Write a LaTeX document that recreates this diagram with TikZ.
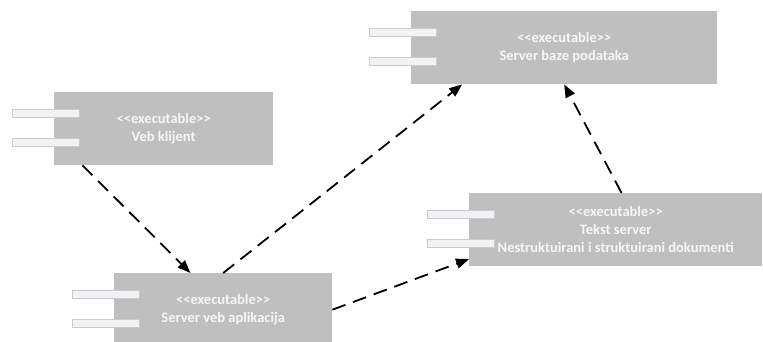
\documentclass[tikz,border=0pt]{standalone}
\usepackage{fontspec}
\setmainfont{Carlito}
\usetikzlibrary{positioning, arrows.meta, calc}
\definecolor{compgray}{RGB}{191,191,191}
\definecolor{portfill}{RGB}{242,242,242}
\definecolor{portedge}{RGB}{196,204,214}
\definecolor{labelwhite}{RGB}{246,246,246}
\newcommand{\exetag}{<\kern0pt<executable>\kern0pt>}

\tikzset{
  compbox/.style={fill=compgray, anchor=north west, inner sep=0pt, minimum height=73pt,
    text=labelwhite, font=\bfseries\fontsize{14.5}{18}\selectfont, align=center},
  portbar/.style={draw=portedge, fill=portfill, line width=0.5pt,
    minimum width=67pt, minimum height=8pt, inner sep=0pt},
  dep/.style={draw=black, line width=1.8pt, dash pattern=on 14pt off 8pt,
    -{Triangle[length=13pt,width=10pt]}}
}

\begin{document}
\begin{tikzpicture}[x=1pt, y=-1pt]
  \useasboundingbox (0,0) rectangle (763,342);

  % components
  \node[compbox, minimum width=219pt] (klijent) at (54,92) {\exetag\\Veb klijent};
  \node[compbox, minimum width=306pt] (baza) at (411,11) {\exetag\\Server baze podataka};
  \node[compbox, minimum width=293pt] (tekst) at (469,193)
    {\exetag\\Tekst server\\Nestruktuirani i struktuirani dokumenti};
  \node[compbox, minimum width=218pt] (aplikacija) at (114,273) {\exetag\\Server veb aplikacija};

  % ports
  \foreach \c in {klijent, baza, tekst, aplikacija} {
    \node[portbar, left=-25pt of \c.west, yshift=15pt] (\c-p1) {};
    \node[portbar, left=-25pt of \c.west, yshift=-14pt] (\c-p2) {};
  }

  % dependencies
  \draw[dep] ($(klijent.south west)!0.13!(klijent.south east)$)
    -- ($(aplikacija.north west)!0.35!(aplikacija.north east)$);
  \draw[dep] (aplikacija.north) -- ($(baza.south west)!0.167!(baza.south east)$);
  \draw[dep] (aplikacija.east) -- ($(tekst.north west)!0.9!(tekst.south west)$);
  \draw[dep] ($(tekst.north west)!0.52!(tekst.north east)$) -- (baza.south);
\end{tikzpicture}
\end{document}
